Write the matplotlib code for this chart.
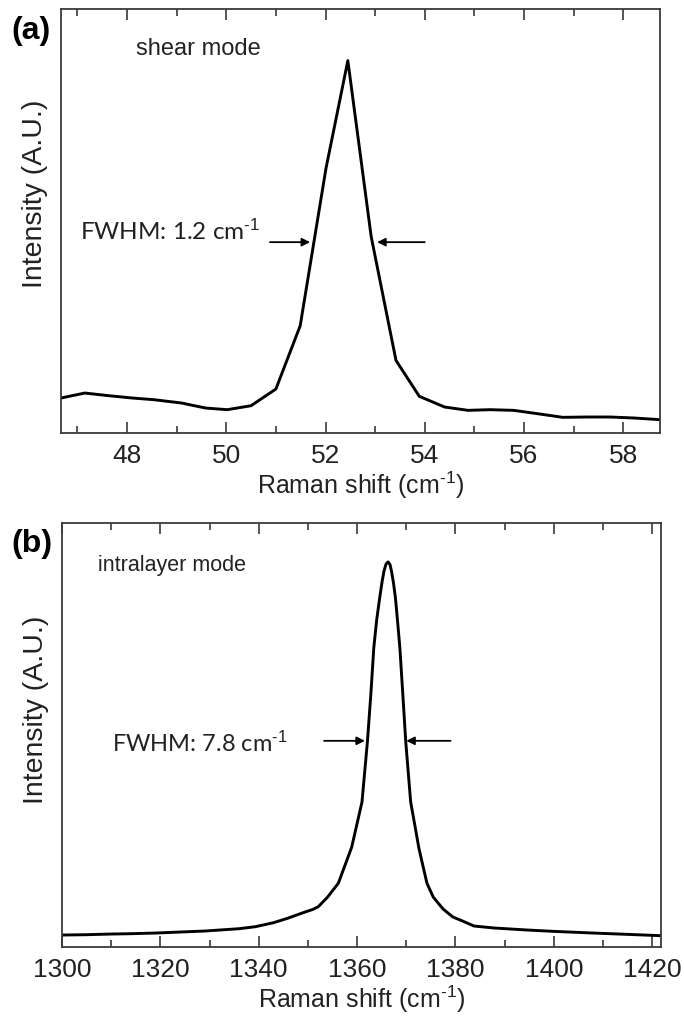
import matplotlib
matplotlib.use("Agg")
import matplotlib.pyplot as plt
from matplotlib.ticker import MultipleLocator

# ---------------- data ----------------
shear_shift = [46.67, 47.15, 47.63, 48.11, 48.54, 49.10, 49.58, 50.02, 50.50,
               51.00, 51.49, 52.01, 52.45, 52.92, 53.42, 53.89, 54.40, 54.87,
               55.31, 55.79, 56.27, 56.78, 57.26, 57.74, 58.22, 58.74]
shear_int = [105, 120, 112, 105, 100, 90, 75, 70, 82,
             132, 322, 795, 1118, 590, 218, 110, 78, 68,
             70, 68, 58, 47, 48, 48, 45, 40]

intra_shift = [1300.0, 1305.0, 1310.0, 1314.0, 1319.0, 1324.0, 1329.0, 1333.0,
               1336.0, 1339.3, 1343.0, 1346.0, 1349.0, 1351.0, 1352.1, 1354.0,
               1356.2, 1358.9, 1361.0, 1362.1, 1362.8, 1363.4, 1364.0, 1364.6,
               1365.1, 1365.5, 1365.9, 1366.3, 1366.7, 1367.0, 1367.4, 1367.8,
               1368.2, 1368.7, 1369.3, 1369.9, 1370.9, 1372.6, 1374.2, 1375.5,
               1377.5, 1379.5, 1381.0, 1383.8, 1388.0, 1394.7, 1400.0, 1408.0,
               1415.0, 1421.8]
intra_int = [36, 37, 39, 40, 42, 45, 48, 52,
             55, 61, 73, 87, 103, 113, 121, 150,
             192, 300, 436, 617, 760, 900, 985, 1050,
             1100, 1132, 1152, 1158, 1150, 1130, 1095, 1050,
             985, 900, 760, 617, 436, 295, 192, 150,
             114, 90, 81, 63, 57, 51, 47, 42,
             38, 34]

shear_xticks = [48, 50, 52, 54, 56, 58]
intra_xticks = [1300, 1320, 1340, 1360, 1380, 1400, 1420]

# ---------------- figure ----------------
plt.rcParams["mathtext.fontset"] = "custom"
plt.rcParams["mathtext.rm"] = "Liberation Sans"
plt.rcParams["mathtext.it"] = "Liberation Sans"

fig = plt.figure(figsize=(6.84, 10.18), dpi=100)
ax1 = fig.add_axes([61 / 684, 1 - 433 / 1018, 599 / 684, 424 / 1018])
ax2 = fig.add_axes([62 / 684, 1 - 947 / 1018, 599 / 684, 424 / 1018])

SANS = ["Liberation Sans", "DejaVu Sans"]
ANNOT = ["Lato", "DejaVu Sans"]
spine_col = "#3a3a3a"
text_col = "#222222"


def style(ax, minor, ticks, ylab_y):
    for s in ax.spines.values():
        s.set_linewidth(1.3)
        s.set_color(spine_col)
    ax.set_yticks([])
    ax.set_xticks(ticks)
    ax.xaxis.set_minor_locator(MultipleLocator(minor))
    ax.tick_params(axis="x", which="both", direction="in", top=True,
                   bottom=True, color=spine_col, width=1.2)
    ax.tick_params(axis="x", which="major", length=8, pad=8,
                   labelsize=19, labelcolor=text_col)
    ax.tick_params(axis="x", which="minor", length=5)
    for lab in ax.get_xticklabels():
        lab.set_family(SANS)
    ax.set_xlabel(r"Raman shift (cm$^{\text{-1}}$)", family=SANS,
                  fontsize=18, color=text_col, labelpad=1)
    ax.set_ylabel("Intensity (A.U.)", family=SANS, fontsize=20.5,
                  color=text_col)
    ax.yaxis.set_label_coords(-0.022, ylab_y)


arrow_kw = dict(arrowstyle="-|>", color="black", lw=1.3, mutation_scale=12,
                shrinkA=0, shrinkB=0)

# ---- panel (a) ----
ax1.plot(shear_shift, shear_int, color="black", lw=2.1)
ax1.set_xlim(46.67, 58.74)
ax1.set_ylim(0, 1273)
style(ax1, 1, shear_xticks, 0.565)
ax1.text(0.125, 0.905, "shear mode", transform=ax1.transAxes, family=SANS,
         fontsize=17, color=text_col, va="center")
ax1.text(47.05, 605, r"FWHM: 1.2 cm$^{\text{-1}}$", family=ANNOT,
         fontsize=17.5, color=text_col, va="center", ha="left")
ax1.annotate("", xy=(51.69, 573), xytext=(50.88, 573), arrowprops=arrow_kw)
ax1.annotate("", xy=(53.04, 573), xytext=(54.0, 573), arrowprops=arrow_kw)

# ---- panel (b) ----
ax2.plot(intra_shift, intra_int, color="black", lw=2.1)
ax2.set_xlim(1300, 1421.8)
ax2.set_ylim(0, 1275)
style(ax2, 10, intra_xticks, 0.56)
ax2.text(0.06, 0.9, "intralayer mode", transform=ax2.transAxes,
         family=SANS, fontsize=15.5, color=text_col, va="center")
ax2.text(1310.2, 612, r"FWHM: 7.8 cm$^{\text{-1}}$", family=ANNOT,
         fontsize=17, color=text_col, va="center", ha="left")
ax2.annotate("", xy=(1361.6, 620), xytext=(1353.3, 620), arrowprops=arrow_kw)
ax2.annotate("", xy=(1370.0, 620), xytext=(1379.0, 620), arrowprops=arrow_kw)

# panel letters
fig.text(11 / 684, 1 - 31 / 1018, "(a)", family=SANS, fontsize=23,
         fontweight="bold", va="center", ha="left")
fig.text(11 / 684, 1 - 544 / 1018, "(b)", family=SANS, fontsize=23,
         fontweight="bold", va="center", ha="left")

fig.savefig("out.png", dpi=100)
